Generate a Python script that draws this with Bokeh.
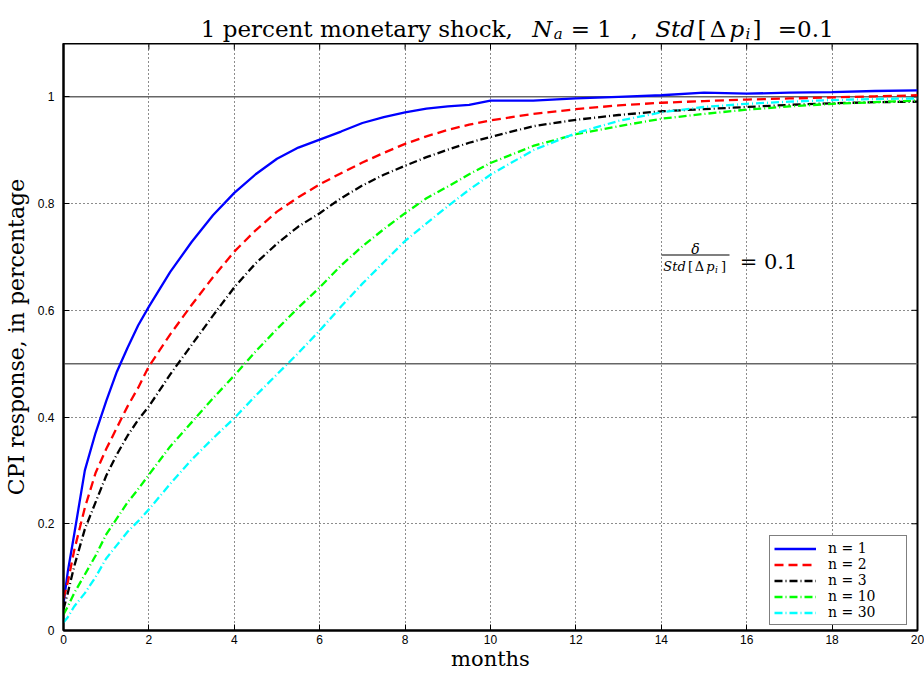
from bokeh.plotting import figure
from bokeh.layouts import column
from bokeh.models import (Label, Span, BoxAnnotation, FixedTicker, Range1d,
                          Legend, LegendItem)
from bokeh.embed import file_html
from bokeh.resources import INLINE

# CPI impulse response to a 1 percent monetary shock, by number of products n
months = [0, 0.1, 0.25, 0.5, 0.75, 1, 1.25, 1.5, 1.75, 2, 2.5, 3, 3.5, 4, 4.5, 5,
          5.5, 6, 6.5, 7, 7.5, 8, 8.5, 9, 9.5, 10, 11, 12, 13, 14, 15, 16, 17,
          18, 19, 20]

cpi_n1 = [0.05, 0.11, 0.18, 0.30, 0.37, 0.43, 0.485, 0.53, 0.572, 0.607, 0.672,
          0.728, 0.778, 0.82, 0.855, 0.884, 0.905, 0.92, 0.935, 0.951, 0.962,
          0.971, 0.978, 0.982, 0.985, 0.993, 0.993, 0.997, 1.0, 1.003, 1.008,
          1.006, 1.008, 1.009, 1.011, 1.012]
cpi_n2 = [0.06, 0.09, 0.15, 0.23, 0.295, 0.34, 0.38, 0.42, 0.455, 0.495, 0.555,
          0.61, 0.662, 0.71, 0.75, 0.785, 0.812, 0.836, 0.857, 0.877, 0.895,
          0.912, 0.926, 0.938, 0.948, 0.956, 0.968, 0.977, 0.984, 0.989, 0.992,
          0.995, 0.997, 0.999, 1.001, 1.003]
cpi_n3 = [0.04, 0.07, 0.12, 0.19, 0.24, 0.29, 0.33, 0.365, 0.395, 0.42, 0.48,
          0.535, 0.59, 0.643, 0.688, 0.725, 0.757, 0.782, 0.81, 0.834, 0.854,
          0.871, 0.887, 0.901, 0.914, 0.925, 0.945, 0.957, 0.966, 0.973, 0.977,
          0.981, 0.985, 0.988, 0.99, 0.991]
cpi_n10 = [0.03, 0.045, 0.07, 0.105, 0.14, 0.18, 0.21, 0.24, 0.265, 0.292, 0.345,
           0.39, 0.435, 0.478, 0.523, 0.565, 0.605, 0.643, 0.684, 0.72, 0.752,
           0.782, 0.81, 0.832, 0.855, 0.876, 0.908, 0.93, 0.945, 0.959, 0.968,
           0.976, 0.982, 0.987, 0.99, 0.993]
cpi_n30 = [0.015, 0.025, 0.045, 0.07, 0.10, 0.135, 0.16, 0.185, 0.205, 0.227,
           0.275, 0.32, 0.36, 0.398, 0.44, 0.48, 0.52, 0.562, 0.607, 0.65,
           0.69, 0.73, 0.763, 0.795, 0.826, 0.854, 0.9, 0.932, 0.955, 0.971,
           0.981, 0.987, 0.991, 0.994, 0.996, 0.997]

series_labels = ["n = 1", "n = 2", "n = 3", "n = 10", "n = 30"]
reference_levels = [0.5, 1.0]
x_ticks = [0, 2, 4, 6, 8, 10, 12, 14, 16, 18, 20]
y_ticks = [0, 0.2, 0.4, 0.6, 0.8, 1]
y_tick_labels = ["0", "0.2", "0.4", "0.6", "0.8", "1"]

W, H = 924, 673
LEFT, RIGHT, TOP, BOTTOM = 61, 917, 43, 632   # axes box, page pixels
SERIF = "DejaVu Serif"
X0, X1, Y0, Y1 = 0, 20, 0, 1.1

# ---------------- title strip (page pixels as data units) ----------------
head = figure(width=W, height=TOP, output_backend="svg", toolbar_location=None,
              x_range=Range1d(LEFT, RIGHT), y_range=Range1d(0, TOP),
              x_axis_location=None, y_axis_location=None,
              min_border_left=LEFT, min_border_right=W - RIGHT,
              min_border_top=0, min_border_bottom=0,
              outline_line_color=None, background_fill_color="white",
              border_fill_color="white")
head.grid.visible = False


def head_text(text, cx, cy, size, style="normal"):
    head.add_layout(Label(x=cx, y=TOP - cy, text=text, text_font=SERIF,
                          text_font_size=f"{size}px", text_font_style=style,
                          text_align="center", text_baseline="alphabetic",
                          text_color="black"))


TY = 28
head_text("1 percent monetary shock,", 355, TY, 23)
head_text("N", 541, TY, 23, "italic")
head_text("a", 557, TY + 5, 15, "italic")
head_text("= 1", 590, TY, 23)
head_text(",", 633, TY, 23)
head_text("Std", 674, TY, 23, "italic")
head_text("[", 701, TY, 23)
head_text("Δ", 717, TY, 23)
head_text("p", 736, TY, 23, "italic")
head_text("i", 747, TY + 5, 15, "italic")
head_text("]", 756, TY, 23)
head_text("=0.1", 805, TY, 23)

# ---------------- main axes ----------------
p = figure(width=W, height=H - TOP, output_backend="svg", toolbar_location=None,
           x_range=Range1d(X0, X1), y_range=Range1d(Y0, Y1),
           min_border_left=LEFT, min_border_right=W - RIGHT,
           min_border_top=0, min_border_bottom=H - BOTTOM,
           background_fill_color="white", border_fill_color="white")
p.outline_line_color = "black"
p.outline_line_width = 2

for ax in (p.xaxis[0], p.yaxis[0]):
    ax.major_tick_in = 6
    ax.major_tick_out = 0
    ax.minor_tick_line_color = None
    ax.axis_line_width = 2
    ax.major_tick_line_width = 1
    ax.major_label_text_font = "Liberation Sans"
    ax.major_label_text_font_size = "12px"
    ax.major_label_text_color = "black"
    ax.axis_label_text_font = SERIF
    ax.axis_label_text_font_style = "normal"
    ax.axis_label_text_color = "black"

p.xaxis.ticker = FixedTicker(ticks=x_ticks)
p.yaxis.ticker = FixedTicker(ticks=y_ticks)
p.yaxis.major_label_overrides = {t: s for t, s in zip(y_ticks, y_tick_labels)}
p.xaxis.axis_label = "months"
p.yaxis.axis_label = "CPI response, in percentage"
p.xaxis.axis_label_text_font_size = "21px"
p.yaxis.axis_label_text_font_size = "22px"
p.xaxis.major_label_standoff = 4
p.yaxis.major_label_standoff = 9
p.xaxis.axis_label_standoff = 0
p.yaxis.axis_label_standoff = 6

# dotted grid
for g in (p.xgrid[0], p.ygrid[0]):
    g.grid_line_color = "black"
    g.grid_line_dash = "1 3"
    g.grid_line_width = 1
    g.grid_line_alpha = 0.9
p.xgrid.ticker = FixedTicker(ticks=x_ticks)
p.ygrid.ticker = FixedTicker(ticks=y_ticks)

# inward tick marks on the top and right edges of the box
frame_w, frame_h = RIGHT - LEFT, BOTTOM - TOP
tick_dx = 6 * (X1 - X0) / frame_w
tick_dy = 6 * (Y1 - Y0) / frame_h
p.segment(x0=x_ticks, y0=[Y1] * len(x_ticks), x1=x_ticks,
          y1=[Y1 - tick_dy] * len(x_ticks), line_color="black", line_width=1)
p.segment(x0=[X1] * len(y_ticks), y0=y_ticks, x1=[X1 - tick_dx] * len(y_ticks),
          y1=y_ticks, line_color="black", line_width=1)

for lvl in reference_levels:
    p.add_layout(Span(location=lvl, dimension="width", line_color="#666666",
                      line_width=1.5, level="underlay"))

styles = [
    ("#0000ff", "solid"),
    ("#ff0000", "9 5"),
    ("#000000", "8 3 1 3"),
    ("#00ff00", "8 3 1 3"),
    ("#00ffff", "8 3 1 3"),
]
series = [cpi_n1, cpi_n2, cpi_n3, cpi_n10, cpi_n30]
items = []
for ys, (col, dash), lab in zip(series, styles, series_labels):
    r = p.line(months, ys, line_color=col, line_width=2.3, line_dash=dash)
    items.append(LegendItem(label=lab, renderers=[r]))

legend = Legend(items=items, location=(706, 5), orientation="vertical",
                label_text_font=SERIF, label_text_font_size="14px",
                label_text_color="black",
                label_height=15, label_width=74, glyph_height=15,
                glyph_width=42, label_standoff=12, spacing=0, padding=4,
                margin=0, border_line_color="black", border_line_width=1.5,
                background_fill_color="white", background_fill_alpha=1.0)
p.add_layout(legend, "center")


def put(text, cx, cy, size, style="normal", align="center"):
    """Place text inside the axes by page pixel position (baseline at cy)."""
    p.add_layout(Label(x=cx - LEFT, y=BOTTOM - cy, x_units="screen",
                       y_units="screen", text=text, text_font=SERIF,
                       text_font_size=f"{size}px", text_font_style=style,
                       text_align=align, text_baseline="alphabetic",
                       text_color="black"))


# ratio annotation inside the axes
put("δ", 693, 250, 14, "italic")
p.add_layout(BoxAnnotation(left=659 - LEFT, right=727 - LEFT,
                           bottom=BOTTOM - 257, top=BOTTOM - 256,
                           left_units="screen", right_units="screen",
                           bottom_units="screen", top_units="screen",
                           fill_color="black", fill_alpha=1.0, line_color=None))
put("Std", 672, 268, 13, "italic")
put("[", 688, 268, 13)
put("Δ", 697, 268, 13)
put("p", 708, 268, 13, "italic")
put("i", 714, 271, 9, "italic")
put("]", 721, 268, 13)
put("= 0.1", 766, 263, 21)

page = column(head, p, spacing=0)
open("out.html", "w").write(file_html(page, INLINE))
